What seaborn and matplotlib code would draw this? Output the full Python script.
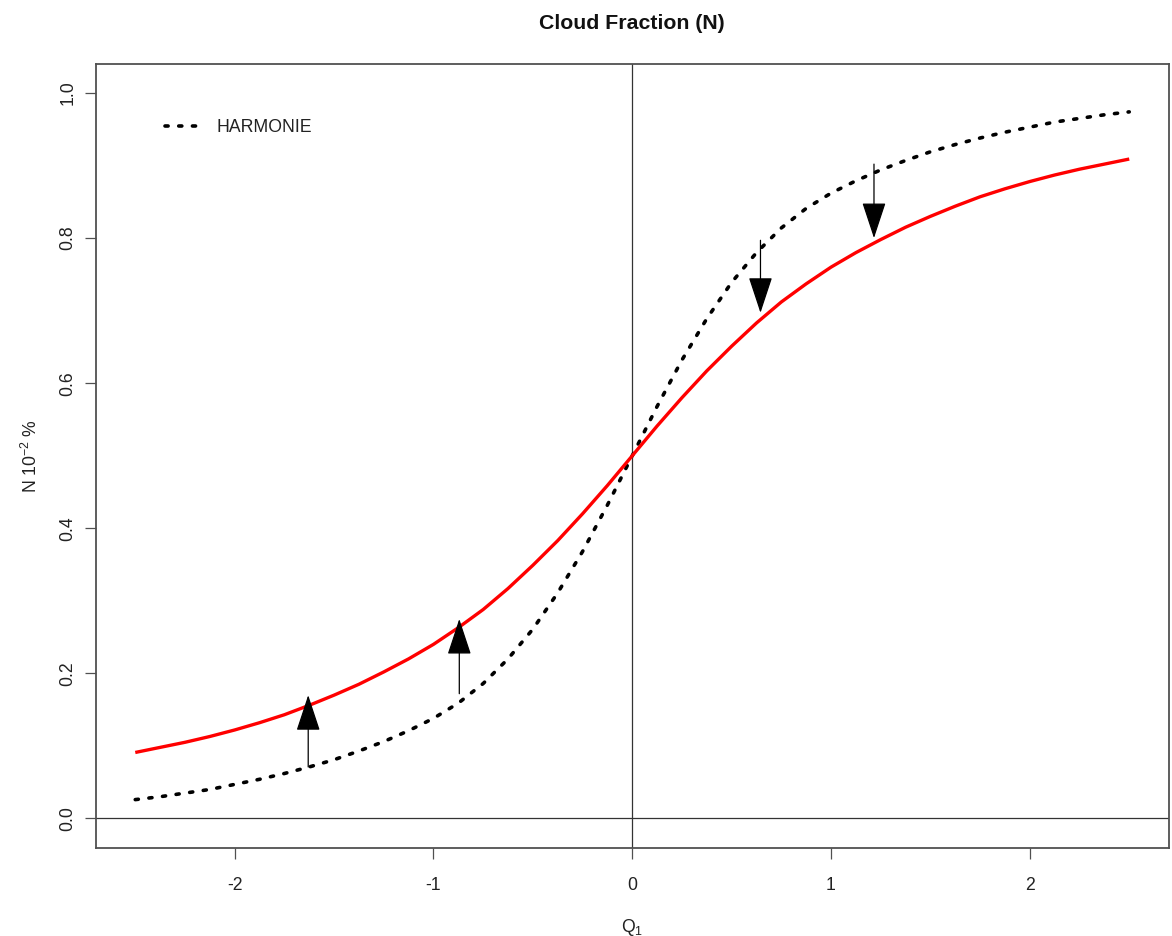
import numpy as np
import pandas as pd
import matplotlib
matplotlib.use("Agg")
import matplotlib.pyplot as plt
import seaborn as sns

# ---------------- data ----------------
q1 = np.linspace(-2.5, 2.5, 41)

harmonie = [0.026, 0.030, 0.035, 0.040, 0.047, 0.054, 0.062, 0.071, 0.081, 0.093,
            0.106, 0.121, 0.138, 0.159, 0.186, 0.220, 0.261, 0.311, 0.368, 0.432,
            0.500,
            0.568, 0.632, 0.689, 0.739, 0.780, 0.814, 0.841, 0.862, 0.879, 0.894,
            0.907, 0.919, 0.929, 0.938, 0.946, 0.953, 0.960, 0.965, 0.970, 0.974]

new_scheme = [0.091, 0.098, 0.105, 0.113, 0.122, 0.132, 0.143, 0.156, 0.170, 0.185,
              0.202, 0.220, 0.240, 0.263, 0.288, 0.317, 0.349, 0.383, 0.420, 0.459,
              0.500,
              0.541, 0.580, 0.617, 0.651, 0.683, 0.712, 0.737, 0.760, 0.780, 0.798,
              0.815, 0.830, 0.844, 0.857, 0.868, 0.878, 0.887, 0.895, 0.902, 0.909]

arrow_x = [-1.63, -0.87, 0.645, 1.216]
arrow_start = [0.071, 0.172, 0.797, 0.902]
arrow_end = [0.170, 0.275, 0.697, 0.800]

x_ticks = [-2, -1, 0, 1, 2]
y_ticks = [0.0, 0.2, 0.4, 0.6, 0.8, 1.0]
y_tick_labels = ["0.0", "0.2", "0.4", "0.6", "0.8", "1.0"]

title = "Cloud Fraction (N)"
x_label = r"Q$_1$"
y_label = r"N 10$^{-2}$ %"
legend_label = "HARMONIE"

df = pd.DataFrame({"q1": q1, "harmonie": harmonie, "new": new_scheme})

# ---------------- style ----------------
sns.set_style("white")
plt.rcParams["font.family"] = ["Liberation Sans", "DejaVu Sans"]
plt.rcParams["mathtext.fontset"] = "custom"
plt.rcParams["mathtext.rm"] = "Liberation Sans"
plt.rcParams["mathtext.it"] = "Liberation Sans:italic"
plt.rcParams["mathtext.bf"] = "Liberation Sans:bold"
plt.rcParams["axes.unicode_minus"] = False

BASE = 12.7
fig = plt.figure(figsize=(11.72, 9.36), dpi=100)
ax = fig.add_axes([95.5 / 1172, 1 - 847.5 / 936, (1169 - 95.5) / 1172, (847.5 - 64) / 936])

# reference lines
ax.axvline(0, color="#333333", lw=0.9, zorder=1)
ax.axhline(0, color="#333333", lw=0.9, zorder=1)

sns.lineplot(data=df, x="q1", y="harmonie", ax=ax, color="black", lw=2.6,
             linestyle=(0, (0.86, 2.94)), dash_capstyle="round",
             label=legend_label, zorder=3)
sns.lineplot(data=df, x="q1", y="new", ax=ax, color="#ff0000", lw=2.4,
             solid_joinstyle="round", solid_capstyle="butt",
             legend=False, zorder=4)

for xa, y0, y1 in zip(arrow_x, arrow_start, arrow_end):
    ax.annotate("", xy=(xa, y1), xytext=(xa, y0),
                arrowprops=dict(arrowstyle="-|>,head_length=2.3,head_width=0.76",
                                mutation_scale=10, lw=0.9, color="black",
                                shrinkA=0, shrinkB=0),
                zorder=5)

ax.set_xlim(-2.7, 2.7)
ax.set_ylim(-0.04, 1.04)
ax.set_xticks(x_ticks)
ax.set_xticklabels([str(t) for t in x_ticks])
ax.set_yticks(y_ticks)
ax.set_yticklabels(y_tick_labels, rotation=90, va="center")

for s in ax.spines.values():
    s.set_color("#505050")
    s.set_linewidth(1.3)
    s.set_visible(True)

ax.tick_params(axis="both", direction="out", length=7.9, width=0.9,
               color="#505050", labelsize=BASE, labelcolor="#222222")
ax.tick_params(axis="x", pad=13.5, bottom=True)
ax.tick_params(axis="y", pad=6, left=True)

ax.set_xlabel(x_label, fontsize=BASE, labelpad=16.5, color="#222222")
ax.set_ylabel(y_label, fontsize=BASE, labelpad=13, color="#222222")
ax.set_title(title, fontsize=15.3, fontweight="bold", pad=25, color="#111111")

leg = ax.legend(loc="center left", bbox_to_anchor=((165 - 95.5) / 1073.5, (847.5 - 127.5) / 783.5),
                frameon=False, fontsize=BASE, handlelength=1.9, handletextpad=1.0,
                borderpad=0, borderaxespad=0)
for t in leg.get_texts():
    t.set_color("#222222")

fig.savefig("out.png", dpi=100, facecolor="white")
